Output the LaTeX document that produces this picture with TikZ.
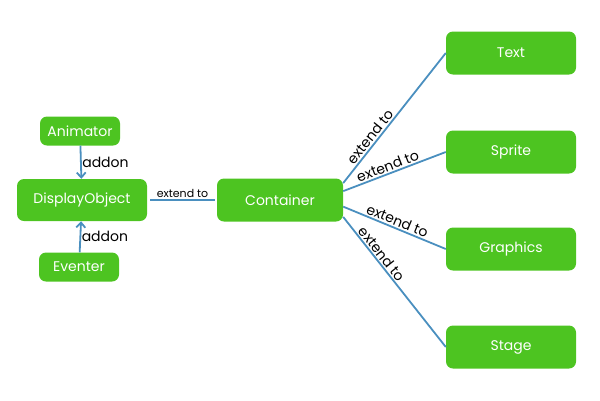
\documentclass[tikz,border=0pt]{standalone}
\usepackage{fontspec}
\setmainfont{Poppins}
\usetikzlibrary{arrows.meta}
\definecolor{boxgreen}{HTML}{4DC421}
\definecolor{linkblue}{HTML}{4A8FBF}
\begin{document}
\begin{tikzpicture}[x=1pt,y=-1pt,
  box/.style={draw=none,fill=boxgreen,rounded corners=7pt,text=white,font=\fontsize{14}{16}\selectfont,minimum width=#1,minimum height=43pt,inner sep=0pt},
  box/.default=130pt,
  smallbox/.style={box=80pt,minimum height=29pt},
  link/.style={draw=linkblue,line width=1.8pt},
  arr/.style={link,-{Straight Barb[length=5pt,width=9pt]}},
  lab/.style={font=\fontsize{14}{16}\selectfont,text=black,inner sep=1.5pt},
  smalllab/.style={font=\fontsize{11}{13}\selectfont,text=black,inner sep=2pt}]
\useasboundingbox (0,0) rectangle (600,400);
\node[smallbox] (anim) at (80,131) {Animator};
\node[box,minimum height=42pt] (disp) at (82,200) {DisplayObject};
\node[smallbox] (evt) at (79,267) {Eventer};
\node[box=126pt] (cont) at (280,200) {Container};
\node[box] (text) at (511,53) {Text};
\node[box] (sprite) at (511,152) {Sprite};
\node[box] (graph) at (511,249) {Graphics};
\node[box] (stage) at (511,347) {Stage};
\draw[arr] (anim) -- node[lab,right,xshift=-1pt] {addon} (disp);
\draw[arr] (evt) -- node[lab,right,xshift=-1pt] {addon} (disp);
\draw[link] ([xshift=3pt]disp.east) -- node[smalllab,above] {extend to} ([xshift=-2pt]cont.west);
\draw[link] (cont.15) -- node[lab,above,sloped,pos=0.32] {extend to} (text.west);
\draw[link] (cont.8) -- node[lab,above,sloped,pos=0.46] {extend to} (sprite.west);
\draw[link] (cont.-6) -- node[lab,above,sloped,pos=0.5] {extend to} (graph.west);
\draw[link] (cont.-15) -- node[lab,above,sloped,pos=0.32] {extend to} (stage.west);
\end{tikzpicture}
\end{document}
